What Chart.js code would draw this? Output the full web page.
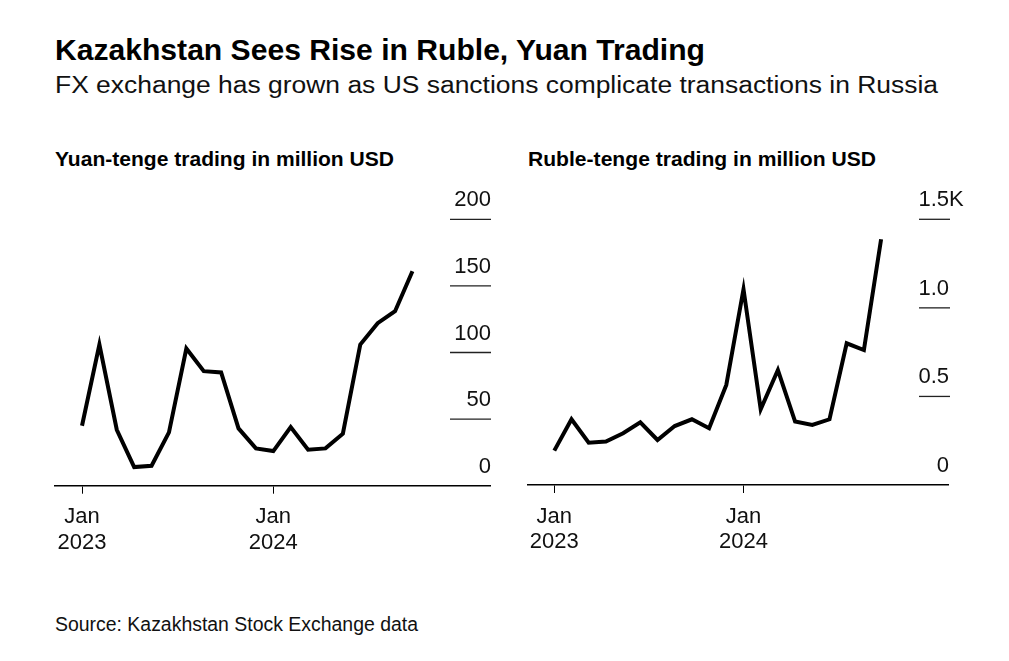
<!DOCTYPE html>
<html>
<head>
<meta charset="utf-8">
<script src="https://cdn.jsdelivr.net/npm/chart.js@4.4.1/dist/chart.umd.min.js"></script>
<style>
  html, body { margin: 0; padding: 0; background: #fff; }
  body { width: 1009px; height: 661px; position: relative; overflow: hidden; font-family: "Liberation Sans", Arial, sans-serif; color: #000; }
  .t { position: absolute; white-space: nowrap; line-height: 1; transform-origin: 0 50%; }
  #title { left: 55px; top: 35.5px; font-size: 29px; font-weight: bold; }
  #subtitle { left: 55px; top: 74px; font-size: 23px; color: #111; }
  .ptitle { top: 147.5px; font-size: 21px; font-weight: bold; }
  #p1 { left: 55px; }
  #p2 { left: 528px; }
  #source { left: 55px; top: 615px; font-size: 19.5px; color: #111; }
  .cw { position: absolute; top: 180px; height: 380px; }
  #w1 { left: 40px; width: 460px; }
  #w2 { left: 510px; width: 465px; }
</style>
</head>
<body>
<div class="t" id="title" data-w="650">Kazakhstan Sees Rise in Ruble, Yuan Trading</div>
<div class="t" id="subtitle" data-w="883">FX exchange has grown as US sanctions complicate transactions in Russia</div>
<div class="t ptitle" id="p1" data-w="339">Yuan-tenge trading in million USD</div>
<div class="t ptitle" id="p2" data-w="348">Ruble-tenge trading in million USD</div>
<div class="cw" id="w1"><canvas id="c1"></canvas></div>
<div class="cw" id="w2"><canvas id="c2"></canvas></div>
<div class="t" id="source" data-w="363">Source: Kazakhstan Stock Exchange data</div>
<script>
// ---- data ----
const months = ['2023-01','2023-02','2023-03','2023-04','2023-05','2023-06','2023-07','2023-08','2023-09','2023-10',
                '2023-11','2023-12','2024-01','2024-02','2024-03','2024-04','2024-05','2024-06','2024-07','2024-08'];
const yuanValues  = [45,106,42,14,15,40,103,86,85,43,28,26,44,27,28,39,106,122,131,161];
const rubleValues = [194,371,239,245,292,354,254,333,371,320,565,1105,427,649,358,339,371,800,762,1387];
const xTickIndex  = [0, 11];
const xTickLabels = [['Jan','2023'], ['Jan','2024']];
const yuanTicks = [0, 50, 100, 150, 200];
const yuanTickLabels = ['0', '50', '100', '150', '200'];
const rubleTicks = [0, 500, 1000, 1500];
const rubleTickLabels = ['0', '0.5', '1.0', '1.5K'];

const FONT = '"Liberation Sans", Arial, sans-serif';

// fit header/footer text widths to the reference
document.querySelectorAll('[data-w]').forEach(el => {
  const w = el.getBoundingClientRect().width;
  el.style.transform = 'scaleX(' + (parseFloat(el.dataset.w) / w) + ')';
});

const yDecor = {
  id: 'yDecor',
  afterDraw(chart, args, o) {
    const ctx = chart.ctx, y = chart.scales.y, ca = chart.chartArea;
    ctx.save();
    o.ticks.forEach((v, i) => {
      const py = y.getPixelForValue(v);
      if (i > 0) {
        ctx.beginPath();
        ctx.strokeStyle = '#222';
        ctx.lineWidth = 1.3;
        ctx.moveTo(ca.right + o.x1, py);
        ctx.lineTo(ca.right + o.x2, py);
        ctx.stroke();
      }
      const m = o.labels[i].match(/^([\d.]+)(.*)$/);
      ctx.font = '22px ' + FONT;
      ctx.fillStyle = '#111';
      ctx.textBaseline = 'alphabetic';
      ctx.textAlign = 'right';
      ctx.fillText(m[1], ca.right + o.lx, py + o.ly);
      if (m[2]) { ctx.textAlign = 'left'; ctx.fillText(m[2], ca.right + o.lx, py + o.ly); }
    });
    ctx.restore();
  }
};

function makeChart(id, values, yMax, ticks, labels, xMin, xMax, pad, xH, deco) {
  return new Chart(document.getElementById(id), {
    type: 'line',
    data: {
      datasets: [{
        data: values.map((v, i) => ({ x: i, y: v })),
        borderColor: '#000',
        borderWidth: 4,
        borderJoinStyle: 'miter',
        borderCapStyle: 'butt',
        pointRadius: 0,
        tension: 0,
        fill: false
      }]
    },
    options: {
      responsive: true,
      maintainAspectRatio: false,
      animation: false,
      events: [],
      layout: { padding: pad },
      plugins: { legend: { display: false }, tooltip: { enabled: false }, yDecor: deco },
      scales: {
        x: {
          type: 'linear',
          min: xMin, max: xMax,
          afterBuildTicks: s => { s.ticks = xTickIndex.map(v => ({ value: v })); },
          afterFit: s => { s.height = xH; },
          ticks: {
            autoSkip: false, maxRotation: 0, padding: 11,
            color: '#111',
            font: { family: FONT, size: 22, lineHeight: 1.15 },
            callback: (v) => xTickLabels[xTickIndex.indexOf(v)]
          },
          grid: { drawOnChartArea: false, drawTicks: true, tickLength: 8, color: '#000', lineWidth: 1 },
          border: { display: true, color: '#000', width: 1.5 }
        },
        y: { display: false, min: 0, max: yMax }
      }
    },
    plugins: [yDecor]
  });
}

makeChart('c1', yuanValues, 200, yuanTicks, yuanTickLabels, -1.553, 23.46,
  { left: 15, right: 10, top: 39.3, bottom: 0 }, 74.3,
  { ticks: yuanTicks, labels: yuanTickLabels, x1: -40, x2: 1, lx: 1, ly: -13 });
makeChart('c2', rubleValues, 1500, rubleTicks, rubleTickLabels, -1.547, 22.89,
  { left: 17.7, right: 27, top: 39.3, bottom: 0 }, 75,
  { ticks: rubleTicks, labels: rubleTickLabels, x1: -29, x2: 2, lx: 1, ly: -13 });
</script>
</body>
</html>
